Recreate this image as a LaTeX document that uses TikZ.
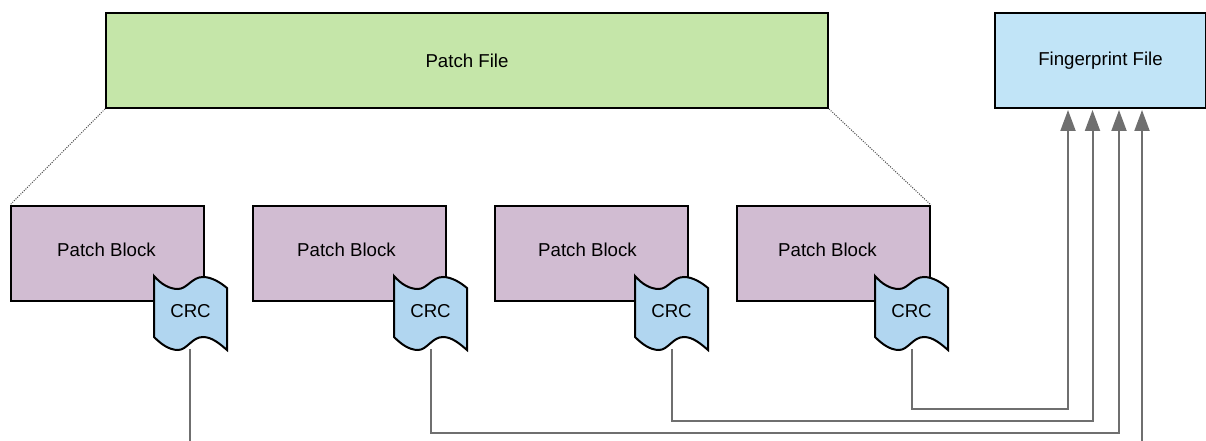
\documentclass[tikz,border=0pt]{standalone}
\usepackage{fontspec}
\setmainfont{Liberation Sans}
\usetikzlibrary{arrows.meta,positioning}
\definecolor{patchgreen}{HTML}{C5E6A9}
\definecolor{fingerblue}{HTML}{C1E4F7}
\definecolor{blockpurple}{HTML}{D1BCD2}
\definecolor{crcblue}{HTML}{B1D6F0}
\definecolor{linkgray}{HTML}{6F6F6F}
\tikzset{>={Triangle[length=15.75pt,width=11.25pt]}}
\tikzset{file node/.style={draw,line width=1.5pt,inner sep=0pt,font=\fontsize{14}{16}\selectfont},
         block node/.style={file node,fill=blockpurple,minimum width=144.75pt,minimum height=71.25pt,text depth=0pt},
         crc wave/.style={draw,line width=1.5pt,fill=crcblue,line join=miter},
         link/.style={draw,linkgray,line width=1.5pt},
            }

\begin{document}
\begin{tikzpicture}[x=.75pt,y=-.75pt]

    \useasboundingbox (0,0) rectangle (1206,441);

    \node[file node,fill=patchgreen,minimum width=541.5pt,minimum height=71.25pt] (patch) at (467,60.5) {Patch File};
    \node[file node,fill=fingerblue,minimum width=158pt,minimum height=71.25pt] (finger) at (1100.5,60.5) {Fingerprint File};

    \node[block node,anchor=north west] (block1) at (10,205) {};
    \node[block node,right = 35.25pt of block1] (block2) {};
    \node[block node,right = 35.25pt of block2] (block3) {};
    \node[block node,right = 35.25pt of block3] (block4) {};

    \foreach \i/\x in {1/10,2/250,3/491,4/731} {
        \node[font=\fontsize{14}{16}\selectfont] at (\x+96.5,250) {Patch Block};
        \draw[crc wave,shift={(\x+144,276)}]
        (0,0) .. controls (7,8) and (15,13) .. (24,13)
        .. controls (33,13) and (38,1) .. (49,1)
        .. controls (58,1) and (67,7) .. (73,12)
        -- (73,74) .. controls (66,68) and (58,61) .. (49,61)
        .. controls (38,61) and (33,74) .. (24,74)
        .. controls (15,74) and (7,68) .. (0,61) -- cycle;
        \node[font=\fontsize{14}{16}\selectfont] (crc\i) at (\x+180.5,311) {CRC};
        \coordinate (tail\i) at (\x+180.5,349);
    }

    \coordinate (out1) at (190,441);
    \coordinate (in1) at (1142,441);
    \coordinate (up1) at (1142,110);
    \coordinate (up2) at (1119,110);
    \coordinate (up3) at (1092.5,110);
    \coordinate (up4) at (1068,110);

    \path[link] (tail1 -| out1) -- (out1);
    \draw[link,->] (in1) -- (up1);
    \draw[link,->] (tail2) |- (430,433) -- (1119,433) -- (up2);
    \draw[link,->] (tail3) |- (671,421) -- (1092.5,421) -- (up3);
    \draw[link,->] (tail4) |- (912,409) -- (1068,409) -- (up4);

    \draw[densely dotted,line width=.75pt,black!70] (patch.south west) -- (block1.north west);
    \draw[densely dotted,line width=.75pt,black!70] (patch.south east) -- (block4.north east);

\end{tikzpicture}
\end{document}
